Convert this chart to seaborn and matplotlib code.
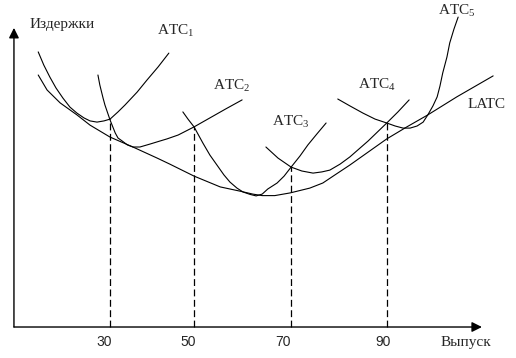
import matplotlib
matplotlib.use("Agg")
import matplotlib.pyplot as plt
import seaborn as sns

# hand-drawn long-run cost diagram
latc_x = [15.9, 17.8, 20.6, 24.2, 27.0, 31.3, 36.2, 41.4, 44.1, 49.3, 54.9, 59.1, 61.9,
          63.9, 66.6, 69.9, 74.1, 76.9, 79.5, 82.7, 90.6, 94.9, 99.4, 105.6, 113.4]
latc_y = [84, 79, 74.7, 70.7, 67.3, 63.3, 60, 56.3, 54.3, 50.3, 46.7, 45.3, 44.3,
          43.8, 43.8, 44.7, 46.3, 48, 50.7, 54, 62.7, 66.7, 70.7, 76.7, 83.7]

atc1_x = [15.9, 17.1, 18.4, 19.7, 21.2, 22.7, 24.2, 25.7, 27.0, 28.5, 30.0, 31.3, 33.0,
          34.5, 37.1, 39.2, 41.6, 43.9]
atc1_y = [91.7, 87.3, 83.3, 79.7, 76.3, 73.3, 71.3, 69.7, 68.7, 68.3, 68.7, 69.3, 71.7,
          74, 78.3, 82.3, 86.7, 91.3]

atc2_x = [28.7, 29.1, 29.8, 30.2, 31.3, 32.4, 33.0, 33.9, 35.0, 36.2, 37.7, 39.9, 42.0,
          43.5, 45.9, 49.3, 52.7, 56.1, 59.6]
atc2_y = [84, 80.7, 76.3, 74, 69, 64.7, 63, 62, 60.7, 60, 60, 61, 62,
          62.7, 64, 66.7, 69.7, 72.7, 75.7]

atc3_x = [46.9, 48.0, 49.3, 51.2, 52.7, 54.2, 55.7, 57.0, 58.5, 59.8, 61.3, 62.6, 63.9,
          65.1, 67.1, 68.6, 70.1, 72.0, 73.7, 75.6, 77.6]
atc3_y = [71.7, 69.3, 66.7, 61.3, 57.3, 54, 50.7, 48.3, 46.3, 45, 44.2, 43.7, 44.3,
          46, 48, 50.3, 53.3, 57, 60.7, 64.3, 68]

atc4_x = [64.7, 67.3, 70.1, 72.4, 74.8, 76.7, 78.4, 80.6, 82.7, 86.6, 90.6, 93.0, 95.4]
atc4_y = [60, 56.3, 53.3, 52, 51.3, 51.7, 52.3, 54.3, 56.7, 62, 68, 71.7, 75.7]

atc5_x = [80.1, 82.7, 85.5, 88.1, 90.6, 92.4, 94.1, 95.6, 97.1, 98.4, 99.4, 100.5, 101.4,
          102.0, 102.6, 103.5, 104.1, 105.0, 105.9]
atc5_y = [76, 73.7, 71.3, 69.3, 68, 67, 66.3, 66.3, 67, 68.3, 70.7, 73.7, 76.7,
          80.3, 84.7, 90, 94.7, 99.3, 103.3]

# dashed drop lines from the crossings of neighbouring ATC curves
drop_x = [31.3, 49.3, 70.1, 90.6]
drop_y = [69.3, 66.7, 53.3, 68]

tick_pos = [30.1, 48.0, 68.4, 89.9]
tick_labels = ['30', '50', '70', '90']

curve_labels = ['ATC$_{\\mathrm{1}}$', 'ATC$_{\\mathrm{2}}$', 'ATC$_{\\mathrm{3}}$',
                'ATC$_{\\mathrm{4}}$', 'ATC$_{\\mathrm{5}}$', 'LATC']
label_x = [41.3, 53.4, 66.0, 84.4, 101.6, 108.0]
label_y = [98.7, 80.3, 68.3, 80.7, 105.3, 74.3]

sns.set_theme(style="white")
plt.rcParams['font.family'] = ['Liberation Serif', 'DejaVu Serif']
plt.rcParams['mathtext.fontset'] = 'custom'
plt.rcParams['mathtext.rm'] = 'Liberation Serif'
plt.rcParams['mathtext.it'] = 'Liberation Serif'


def plot_costs():
    fig = plt.figure(figsize=(5.16, 3.58), dpi=100)
    ax = fig.add_axes([0, 0, 1, 1])
    ax.set_xlim(7.71, 118.3)
    ax.set_ylim(-10.33, 109)
    ax.axis('off')

    curves = [(atc1_x, atc1_y), (atc2_x, atc2_y), (atc3_x, atc3_y),
              (atc4_x, atc4_y), (atc5_x, atc5_y), (latc_x, latc_y)]
    for cx, cy in curves:
        sns.lineplot(x=cx, y=cy, ax=ax, color='black', lw=0.8, sort=False, estimator=None)

    for dx, dy in zip(drop_x, drop_y):
        ax.plot([dx, dx], [0, dy], color='black', lw=0.9, dashes=[5.5, 2.8])

    # axes with arrow heads
    arrow = dict(arrowstyle='-|>,head_length=0.6,head_width=0.3', color='black',
                 lw=1.0, mutation_scale=10, shrinkA=0, shrinkB=0)
    ax.annotate('', xy=(10.7, 99.7), xytext=(10.7, 0), arrowprops=arrow)
    ax.annotate('', xy=(111.0, 0), xytext=(10.7, 0), arrowprops=arrow)

    for tx, tl in zip(tick_pos, tick_labels):
        ax.text(tx, -5, tl, ha='center', va='center', fontsize=10,
                family=['Liberation Sans', 'DejaVu Sans'])

    for lx, ly, lab in zip(label_x, label_y, curve_labels):
        ax.text(lx, ly, lab, ha='left', va='center', fontsize=11)

    ax.text(14.1, 101, 'Издержки', ha='left', va='center', fontsize=11)
    ax.text(107.6, -5, 'Выпуск', ha='center', va='center', fontsize=11)

    plt.savefig('out.png', dpi=100)


if __name__ == "__main__":
    plot_costs()
